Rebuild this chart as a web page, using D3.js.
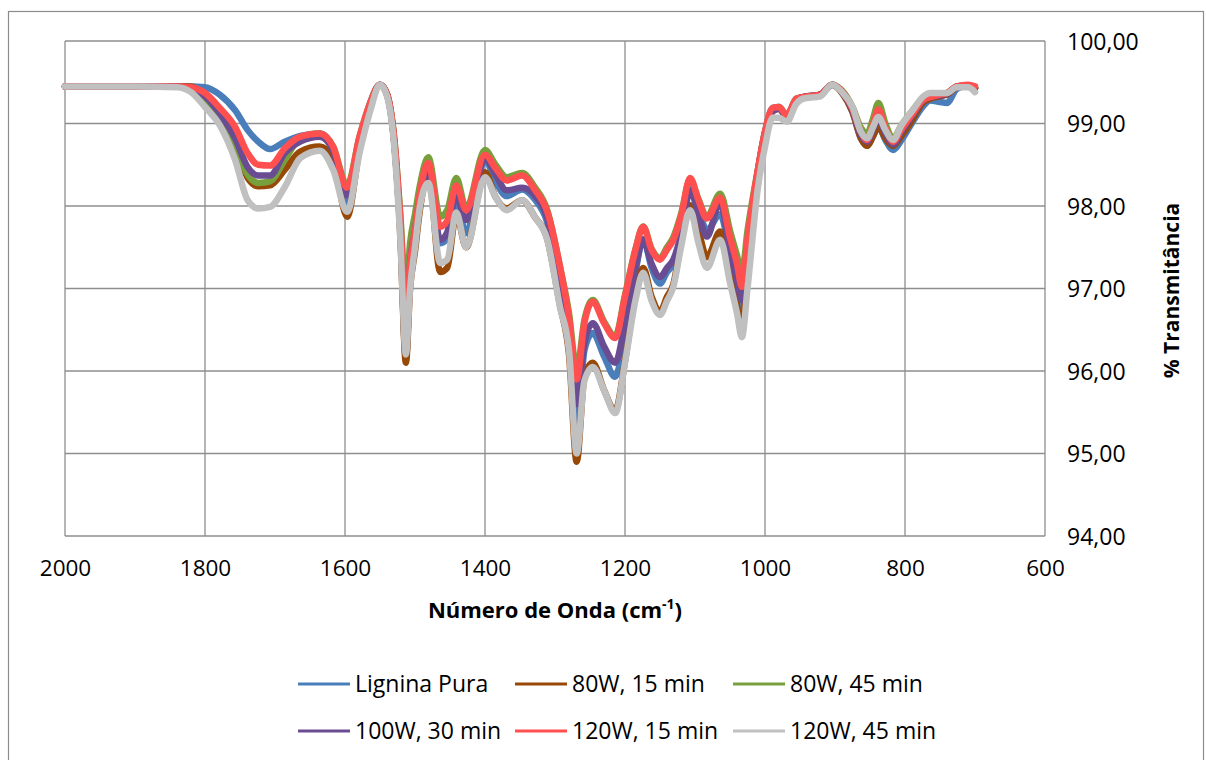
<!DOCTYPE html>
<html>
<head>
<meta charset="utf-8">
<script src="https://cdn.jsdelivr.net/npm/d3@7"></script>
<style>
html,body{margin:0;padding:0;background:#fff;}
text{font-family:"Open Sans","Liberation Sans",sans-serif;fill:#000;}
</style>
</head>
<body>
<svg id="chart" width="1206" height="760"></svg>
<script>
const wavenumbers = [2000,1900,1840,1820,1800,1779,1757,1739,1724,1707,1686,1664,1636,1617,1597,1579,1564,1550,1540,1530,1521,1513,1507,1500,1493,1481,1464,1454,1441,1427,1400,1385,1369,1347,1329,1311,1293,1280,1269,1258,1246,1230,1214,1200,1185,1174,1162,1150,1140,1131,1120,1107,1095,1083,1064,1050,1040,1033,1025,1010,1000,989,980,969,955,946,921,904,890,875,863,854,846,838,828,817,805,789,775,764,750,740,726,710,700];

const ligninaPura = [99.45,99.45,99.45,99.45,99.44,99.35,99.16,98.92,98.78,98.69,98.78,98.85,98.88,98.70,98.04,98.75,99.25,99.47,99.35,98.8,97.7,96.15,97.15,97.6,98.1,98.45,97.55,97.6,98.05,97.67,98.56,98.3,98.12,98.2,98.08,97.8,97.05,96.4,95.25,96.25,96.46,96.18,95.93,96.45,97.2,97.6,97.25,97.06,97.2,97.3,97.65,98.22,97.95,97.71,97.9,97.4,97.0,96.72,97.4,98.43,98.9,99.19,99.2,99.1,99.3,99.32,99.35,99.47,99.38,99.14,98.82,98.73,98.84,98.96,98.8,98.68,98.8,99.02,99.2,99.28,99.26,99.25,99.42,99.46,99.43];

const w80m15 = [99.45,99.45,99.45,99.45,99.3,99.07,98.74,98.34,98.24,98.25,98.44,98.66,98.72,98.56,97.87,98.7,99.2,99.47,99.35,98.8,97.65,96.1,97.0,97.45,97.95,98.4,97.2,97.25,97.9,97.5,98.41,98.11,97.97,98.07,97.87,97.6,96.8,96.2,94.9,95.93,96.1,95.77,95.52,96.12,96.95,97.25,96.9,96.72,96.9,97.05,97.55,98.01,97.7,97.38,97.69,97.2,96.8,96.45,97.3,98.35,98.85,99.15,99.18,99.08,99.28,99.31,99.35,99.47,99.37,99.14,98.82,98.73,98.84,98.96,98.82,98.73,98.85,99.05,99.25,99.3,99.33,99.35,99.44,99.46,99.43];

const w80m45 = [99.45,99.45,99.45,99.42,99.28,99.07,98.74,98.38,98.28,98.3,98.56,98.82,98.88,98.72,98.25,98.85,99.25,99.47,99.36,98.85,97.9,96.9,97.55,97.9,98.25,98.59,97.87,97.95,98.34,97.97,98.68,98.5,98.35,98.4,98.23,97.95,97.27,96.7,96.01,96.62,96.86,96.6,96.42,96.92,97.48,97.75,97.48,97.37,97.5,97.62,97.9,98.32,98.08,97.87,98.15,97.7,97.4,97.19,97.7,98.45,98.9,99.18,99.2,99.1,99.3,99.32,99.35,99.47,99.4,99.2,98.95,98.88,99.05,99.25,99.0,98.82,98.98,99.16,99.3,99.35,99.36,99.37,99.45,99.46,99.43];

const w100m30 = [99.45,99.45,99.45,99.43,99.33,99.12,98.82,98.47,98.37,98.37,98.64,98.78,98.84,98.67,98.13,98.78,99.22,99.47,99.35,98.8,97.75,96.5,97.3,97.7,98.12,98.45,97.59,97.68,98.12,97.83,98.58,98.38,98.19,98.22,98.13,97.85,97.1,96.45,95.6,96.34,96.58,96.3,96.1,96.58,97.25,97.59,97.3,97.14,97.25,97.35,97.65,98.19,97.9,97.63,98.05,97.45,97.1,96.86,97.45,98.43,98.88,99.15,99.18,99.09,99.29,99.32,99.35,99.47,99.38,99.16,98.86,98.78,98.92,99.05,98.88,98.75,98.9,99.1,99.27,99.32,99.34,99.36,99.45,99.46,99.43];

const w120m15 = [99.45,99.45,99.45,99.44,99.37,99.19,98.96,98.64,98.5,98.49,98.7,98.84,98.88,98.72,98.22,98.85,99.25,99.47,99.36,98.85,97.85,96.7,97.3,97.7,98.15,98.52,97.75,97.82,98.25,97.95,98.62,98.46,98.31,98.37,98.2,97.93,97.27,96.65,95.9,96.58,96.84,96.58,96.4,96.9,97.47,97.75,97.47,97.35,97.47,97.59,97.87,98.34,98.07,97.85,98.1,97.62,97.3,97.02,97.6,98.45,98.9,99.19,99.2,99.1,99.3,99.32,99.35,99.47,99.39,99.18,98.9,98.8,98.98,99.17,98.95,98.78,98.93,99.12,99.28,99.32,99.35,99.37,99.45,99.47,99.45];

const w120m45 = [99.45,99.45,99.44,99.38,99.2,98.98,98.56,98.07,97.97,97.99,98.23,98.58,98.67,98.44,97.93,98.65,99.15,99.47,99.33,98.75,97.6,96.2,97.0,97.5,97.99,98.28,97.31,97.35,97.92,97.5,98.35,98.11,97.95,98.07,97.87,97.59,96.78,96.25,95.0,95.88,96.05,95.77,95.49,96.1,96.86,97.19,96.85,96.68,96.85,97.02,97.5,97.95,97.55,97.25,97.59,97.07,96.7,96.41,97.0,98.23,98.72,99.07,99.07,99.02,99.24,99.3,99.33,99.47,99.38,99.2,98.9,98.82,98.95,99.08,98.92,98.8,98.98,99.16,99.32,99.37,99.37,99.37,99.44,99.44,99.38];

const seriesNames = ["Lignina Pura","80W, 15 min","80W, 45 min","100W, 30 min","120W, 15 min","120W, 45 min"];
const seriesValues = [ligninaPura, w80m15, w80m45, w100m30, w120m15, w120m45];
const seriesColors = ["#4a7ebb","#984807","#77a03c","#6a4c93","#ff4f4f","#c0c0c0"];

const xTicks = [2000,1800,1600,1400,1200,1000,800,600];
const yTicks = [94,95,96,97,98,99,100];
const xTitle = "Número de Onda (cm";
const xTitleSup = "-1";
const yTitle = "% Transmitância";

const svg = d3.select("#chart");
const L = 65, R = 1045, T = 41, B = 536;

const x = d3.scaleLinear().domain([2000,600]).range([L,R]);
const y = d3.scaleLinear().domain([94,100]).range([B,T]);

// outer border
svg.append("rect").attr("x",8.5).attr("y",11.5).attr("width",1195).attr("height",800)
  .attr("fill","#fff").attr("stroke","#8c8c8c").attr("stroke-width",1.2);

// gridlines
const grid = svg.append("g");
grid.selectAll("line.v").data(xTicks).join("line")
  .attr("x1",d=>x(d)).attr("x2",d=>x(d)).attr("y1",T).attr("y2",B)
  .attr("stroke","#8e8e8e").attr("stroke-width",1.3);
grid.selectAll("line.h").data(yTicks).join("line")
  .attr("y1",d=>y(d)).attr("y2",d=>y(d)).attr("x1",L).attr("x2",R)
  .attr("stroke","#8e8e8e").attr("stroke-width",1.3);

// axes labels via d3 axes
const xAxis = d3.axisBottom(x).tickValues(xTicks).tickSize(0).tickPadding(0).tickFormat(d3.format("d"));
const gx = svg.append("g").attr("transform",`translate(0,${B+24})`).call(xAxis);
gx.select(".domain").remove();
gx.selectAll("text").attr("font-size",22.5).attr("font-family","'Open Sans',sans-serif").attr("fill","#000").attr("dy","0.72em");

const fmt = d => d.toFixed(2).replace(".", ",");
const yAxis = d3.axisRight(y).tickValues(yTicks).tickSize(0).tickPadding(0).tickFormat(fmt);
const gy = svg.append("g").attr("transform",`translate(${R+22},0)`).call(yAxis);
gy.select(".domain").remove();
gy.selectAll("text").attr("font-size",23).attr("font-family","'Open Sans',sans-serif").attr("fill","#000").attr("dy","0.35em");

// titles
const xt = svg.append("text").attr("x",(L+R)/2).attr("y",618).attr("text-anchor","middle")
  .attr("font-size",22).attr("font-weight","bold");
xt.append("tspan").text(xTitle);
xt.append("tspan").attr("font-size",14).attr("dy",-9).text(xTitleSup);
xt.append("tspan").attr("dy",9).text(")");

svg.append("text").attr("transform",`translate(1179,${(T+B)/2 + 2}) rotate(-90)`)
  .attr("text-anchor","middle").attr("font-size",21).attr("font-weight","bold").text(yTitle);

// lines
const line = d3.line().x(d=>x(d[0])).y(d=>y(d[1])).curve(d3.curveMonotoneX);
const lines = svg.append("g");
seriesValues.forEach((vals,i)=>{
  const pts = wavenumbers.map((w,j)=>[w,vals[j]]);
  lines.append("path").datum(pts).attr("d",line).attr("fill","none")
    .attr("stroke",seriesColors[i]).attr("stroke-width",6.5)
    .attr("stroke-linejoin","round").attr("stroke-linecap","round");
});

// legend
const legX = [298,515,733];
const legY = [684,731];
const leg = svg.append("g");
seriesNames.forEach((n,i)=>{
  const lx = legX[i%3], ly = legY[Math.floor(i/3)];
  leg.append("line").attr("x1",lx).attr("x2",lx+52).attr("y1",ly).attr("y2",ly)
    .attr("stroke",seriesColors[i]).attr("stroke-width",3);
  leg.append("text").attr("x",lx+57).attr("y",ly).attr("dy","0.35em").attr("font-size",23).text(n);
});
</script>
</body>
</html>
